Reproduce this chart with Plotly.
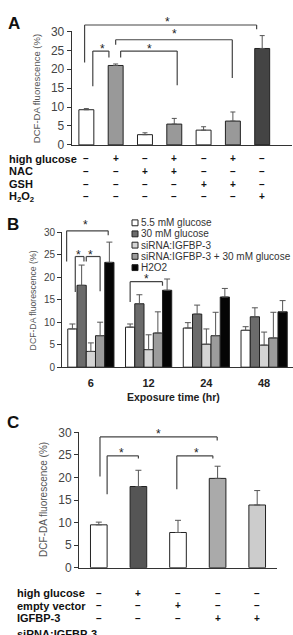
import plotly.graph_objects as go

W, H = 293, 635
FONT = "Liberation Sans, Arial, sans-serif"

# ---------------- data ----------------
# Panel A
A_cats = ["c1", "c2", "c3", "c4", "c5", "c6", "c7"]
A_vals = [9.3, 21.0, 2.7, 5.5, 3.9, 6.3, 25.5]
A_err = [0.3, 0.4, 0.5, 1.5, 0.9, 2.4, 3.4]
A_colors = ["#ffffff", "#999999", "#ffffff", "#999999", "#ffffff", "#999999", "#444444"]
A_row_labels = ["high glucose", "NAC", "GSH", "H<sub>2</sub>O<sub>2</sub>"]
A_rows = [
    ["–", "+", "–", "+", "–", "+", "–"],
    ["–", "–", "+", "+", "–", "–", "–"],
    ["–", "–", "–", "–", "+", "+", "–"],
    ["–", "–", "–", "–", "–", "–", "+"],
]

# Panel B
B_times = ["6", "12", "24", "48"]
B_series = ["5.5 mM glucose", "30 mM glucose", "siRNA:IGFBP-3",
            "siRNA:IGFBP-3 + 30 mM glucose", "H2O2"]
B_vals = [
    [8.5, 8.9, 8.7, 8.2],
    [18.2, 14.1, 11.8, 11.2],
    [3.5, 3.9, 5.1, 4.9],
    [7.0, 7.6, 7.0, 6.5],
    [23.3, 17.1, 15.6, 12.3],
]
B_err = [
    [1.1, 0.7, 1.2, 0.8],
    [4.5, 2.0, 2.0, 2.0],
    [1.9, 3.3, 3.4, 2.9],
    [3.0, 4.7, 5.2, 5.7],
    [4.5, 2.5, 1.9, 2.5],
]
B_colors = ["#ffffff", "#6b6b6b", "#d4d4d4", "#9c9c9c", "#050505"]

# Panel C
C_cats = ["d1", "d2", "d3", "d4", "d5"]
C_vals = [9.5, 18.0, 7.8, 19.8, 13.9]
C_err = [0.6, 3.6, 2.7, 2.7, 3.2]
C_colors = ["#ffffff", "#555555", "#ffffff", "#aaaaaa", "#cccccc"]
C_row_labels = ["high glucose", "empty vector", "IGFBP-3", "siRNA:IGFBP-3"]
C_rows = [
    ["–", "+", "–", "–", "–"],
    ["–", "–", "+", "–", "–"],
    ["–", "–", "–", "+", "+"],
]

YMAX = 30


def px(x):
    return x / W


def py(y):
    return 1 - y / H


fig = go.Figure()

errstyle = dict(type="data", symmetric=False, color="#555555", thickness=1)

# A bars
fig.add_trace(go.Bar(
    x=A_cats, y=A_vals, width=0.51,
    marker=dict(color=A_colors, line=dict(color="#222222", width=1)),
    error_y=dict(array=A_err, arrayminus=[0] * len(A_err), width=2.5, **errstyle),
    xaxis="x", yaxis="y", showlegend=False,
))

# B bars
for name, vals, err, col in zip(B_series, B_vals, B_err, B_colors):
    fig.add_trace(go.Bar(
        x=B_times, y=vals, name=name,
        marker=dict(color=col, line=dict(color="#222222", width=1)),
        error_y=dict(array=err, arrayminus=[0] * len(err), width=3, **errstyle),
        xaxis="x2", yaxis="y2", showlegend=False,
    ))

# C bars
fig.add_trace(go.Bar(
    x=C_cats, y=C_vals, width=0.42,
    marker=dict(color=C_colors, line=dict(color="#222222", width=1)),
    error_y=dict(array=C_err, arrayminus=[0] * len(C_err), width=3, **errstyle),
    xaxis="x3", yaxis="y3", showlegend=False,
))

yax_common = dict(range=[0, YMAX], tickvals=[0, 5, 10, 15, 20, 25, 30],
                  showline=True, linecolor="#333333", linewidth=1,
                  ticks="outside", ticklen=4, tickcolor="#333333",
                  showgrid=False, zeroline=False, fixedrange=True)
xax_common = dict(showline=True, linecolor="#333333", linewidth=1.2,
                  showgrid=False, zeroline=False, ticks="", type="category")

layout = dict(
    width=W, height=H, margin=dict(l=0, r=0, t=0, b=0),
    paper_bgcolor="white", plot_bgcolor="white",
    font=dict(family=FONT, color="#333333"),
    barmode="group", bargap=0.2, bargroupgap=0,
    xaxis=dict(domain=[px(71.7), px(291.5)], range=[-0.5, 7], showticklabels=False,
               anchor="y", **xax_common),
    yaxis=dict(domain=[py(141), py(25)], anchor="x",
               tickfont=dict(size=12, color="#444444"), **yax_common),
    xaxis2=dict(domain=[px(62), 1.0], range=[-0.5, 3.5], anchor="y2",
                showticklabels=True, tickfont=dict(size=11, color="#222222",
                                                   family="Liberation Sans, Arial", weight="bold"),
                ticklabelstandoff=6, **xax_common),
    yaxis2=dict(domain=[py(368.3), py(230.3)], anchor="x2",
                tickfont=dict(size=10, color="#444444"), **yax_common),
    xaxis3=dict(domain=[px(79), px(277)], range=[-0.5, 4.5], showticklabels=False,
                anchor="y3", **xax_common),
    yaxis3=dict(domain=[py(573.3), py(435)], anchor="x3",
                tickfont=dict(size=12, color="#444444"), **yax_common),
)
fig.update_layout(**layout)

shapes = []
annots = []
BR_COLOR = "#444444"


def bracket(xr, yr, x0, x1, ytop, yb0, yb1):
    d = lambda v: v / YMAX
    for (a0, b0, a1, b1) in [(x0, yb0, x0, ytop), (x0, ytop, x1, ytop), (x1, ytop, x1, yb1)]:
        shapes.append(dict(type="line", xref=xr, yref=yr + " domain",
                           x0=a0, x1=a1, y0=d(b0), y1=d(b1),
                           line=dict(color=BR_COLOR, width=1.2)))


def star(xr, yr, x, y):
    annots.append(dict(xref=xr, yref=yr + " domain", x=x, y=y / YMAX, text="*",
                       showarrow=False, font=dict(size=12, color="#222222"),
                       xanchor="center", yanchor="middle", yshift=-3))


# A brackets
bracket("x", "y", -0.06, 5.81, 31.7, 21.8, 30.6)
bracket("x", "y", 1.0, 4.98, 27.8, 26.5, 17.7)
bracket("x", "y", 1.17, 3.1, 24.8, 23.1, 15.8)
bracket("x", "y", 0.22, 0.77, 24.8, 15.5, 23.1)
star("x", "y", 2.77, 33.2)
star("x", "y", 3.0, 30.2)
star("x", "y", 2.17, 26.1)
star("x", "y", 0.54, 26.1)

# B brackets (x in group units)
bracket("x2", "y2", -0.42, 0.30, 30.3, 23.5, 29.3)
bracket("x2", "y2", -0.27, -0.12, 24.6, 16.7, 23.5)
bracket("x2", "y2", -0.08, 0.16, 24.6, 23.5, 16.9)
bracket("x2", "y2", 0.68, 1.24, 19.0, 14.5, 18.1)
star("x2", "y2", -0.10, 32.2)
star("x2", "y2", -0.21, 25.5)
star("x2", "y2", -0.0, 25.5)
star("x2", "y2", 0.96, 20.3)

# C brackets
bracket("x3", "y3", 0.03, 2.99, 29.0, 20.2, 28.2)
bracket("x3", "y3", 0.21, 1.0, 24.8, 16.3, 24.2)
bracket("x3", "y3", 1.97, 2.88, 24.8, 17.4, 24.2)
star("x3", "y3", 1.5, 30.4)
star("x3", "y3", 0.58, 26.0)
star("x3", "y3", 2.47, 26.0)

# Panel letters
for letter, (lx, ly) in zip(["A", "B", "C"], [(13.5, 16.5), (12.5, 222), (12.5, 425)]):
    annots.append(dict(xref="paper", yref="paper", x=px(lx), y=py(ly), text=f"<b>{letter}</b>",
                       showarrow=False, font=dict(size=17, color="#111111"),
                       xanchor="center", yanchor="middle"))

# Y titles
for (tx, ty, fs) in [(36, 84, 9.5), (33, 300, 8.7), (44, 504, 10)]:
    annots.append(dict(xref="paper", yref="paper", x=px(tx), y=py(ty),
                       text="DCF-DA fluorescence (%)", textangle=-90, showarrow=False,
                       font=dict(size=fs, color="#555555"), xanchor="center", yanchor="middle"))

# A condition rows
A_row_y = [155, 168, 181.5, 194]
for lab, row, yy in zip(A_row_labels, A_rows, A_row_y):
    annots.append(dict(xref="paper", yref="paper", x=px(6.5), y=py(yy), text=f"<b>{lab}</b>",
                       showarrow=False, font=dict(size=11, color="#111111"),
                       xanchor="left", yanchor="middle"))
    for cat, sym in zip(A_cats, row):
        annots.append(dict(xref="x", yref="paper", x=cat, y=py(yy), text=f"<b>{sym}</b>",
                           showarrow=False, font=dict(size=10, color="#111111"),
                           xanchor="center", yanchor="middle"))

# C condition rows
C_row_y = [599.3, 612.3, 625, 641]
for i, (lab, yy) in enumerate(zip(C_row_labels, C_row_y)):
    annots.append(dict(xref="paper", yref="paper", x=px(15), y=py(yy), text=f"<b>{lab}</b>",
                       showarrow=False, font=dict(size=11, color="#111111"),
                       xanchor="left", yanchor="middle"))
    if i < len(C_rows):
        for cat, sym in zip(C_cats, C_rows[i]):
            annots.append(dict(xref="x3", yref="paper", x=cat, y=py(yy), text=f"<b>{sym}</b>",
                               showarrow=False, font=dict(size=10, color="#111111"),
                               xanchor="center", yanchor="middle"))

# B x title
annots.append(dict(xref="paper", yref="paper", x=px(173), y=py(398.5),
                   text="<b>Exposure time (hr)</b>", showarrow=False,
                   font=dict(size=10.5, color="#222222"), xanchor="center", yanchor="middle"))

# B legend (manual, compact)
leg_y = [220.7, 232, 243.5, 255, 266.5]
for name, col, yy in zip(B_series, B_colors, leg_y):
    shapes.append(dict(type="rect", xref="paper", yref="paper",
                       x0=px(132), x1=px(138), y0=py(yy + 3), y1=py(yy - 3),
                       fillcolor=col, line=dict(color="#222222", width=1)))
    annots.append(dict(xref="paper", yref="paper", x=px(138.5), y=py(yy), text=name,
                       showarrow=False, font=dict(size=10, color="#333333"),
                       xanchor="left", yanchor="middle"))

fig.update_layout(shapes=shapes, annotations=annots)
fig.write_html("out.html")
